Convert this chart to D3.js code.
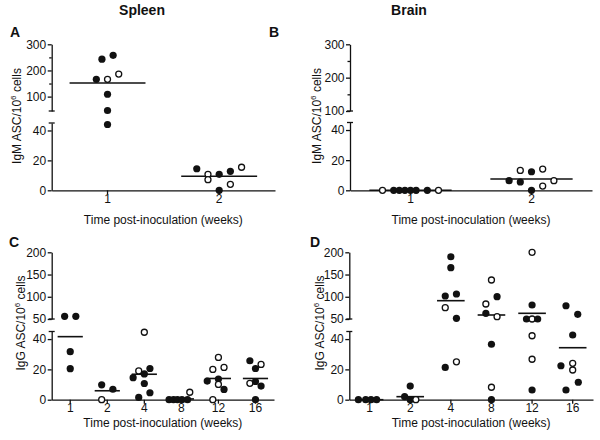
<!DOCTYPE html>
<html><head><meta charset="utf-8">
<script src="https://cdn.jsdelivr.net/npm/d3@7"></script>
<style>body{margin:0;background:#fff} svg text{font-family:"Liberation Sans",Arial,sans-serif}</style>
</head><body><svg id="chart" width="600" height="440"></svg>
<script>
// ---------- DATA ----------
const columnTitles = ["Spleen", "Brain"];
const panelLetters = ["A", "B", "C", "D"];
const igmLabel = "IgM ASC/10";
const iggLabel = "IgG ASC/10";
const xTitle = "Time post-inoculation (weeks)";

// Panel A: spleen IgM
const aWeeks = ["1", "2"];
const aWeek = [1,1,1,1,1,1,1,1, 2,2,2,2,2,2,2,2];
const aValue = [243,258,166,166,186,109,47,44, 14.4,10.7,7.1,10.7,12.7,15.4,4.0,0];
const aOpen = [0,0,0,1,1,0,0,0, 0,1,1,0,0,1,1,0];
const aSlot = [-1,1,-2,0,2,0,0,0, -4,-2,-2,0,2,4,2,0];
const aMedian = [152, 9.4];

// Panel B: brain IgM
const bWeeks = ["1", "2"];
const bWeek = [1,1,1,1,1,1,1,1, 2,2,2,2,2,2,2,2];
const bValue = [0,0,0,0,0,0,0,0, 6.4,5.5,13.2,12.3,14.1,2.8,6.4,0];
const bOpen = [1,0,0,0,0,0,0,1, 0,0,1,0,1,1,1,0];
const bSlot = [-5,-3,-2,-1,0,1,3,5, -4,-2,-2,0,2,2,4,0];
const bMedian = [0, 7.5];

// Panel C: spleen IgG
const cWeeks = ["1","2","4","8","12","16"];
const cWeek = [1,1,1,1, 2,2,2, 4,4,4,4,4,4,4,4, 8,8,8,8,8,8, 12,12,12,12,12,12,12,12, 16,16,16,16,16,16,16];
const cValue = [56,56,31.7,20.5, 9.8,6.9,0, 44.5,19,20.6,14.5,17,10.7,4.6,1.5, 0,0,0,0,0,4.9, 27.9,20,21.3,12.3,13.6,10.1,6.8,0, 25.7,23.3,20.6,10.8,12,9,0];
const cOpen = [0,0,0,0, 0,0,1, 1,1,0,0,0,0,0,0, 0,0,0,0,0,1, 1,1,1,0,0,1,0,1, 0,1,0,1,0,0,0];
const cSlot = [-1,1,0,0, -1,1,-1, 0,-1,1,-2,0,0,1,-1, -2.2,-1.4,-0.7,0.1,1.1,1.5, 0,-1,1,-2,0,0,1,-1, -1,1,0,-1,0,1,0];
const cMedian = [41.6, 5.9, 16.8, 0.5, 14, 14];

// Panel D: brain IgG
const dWeeks = ["1","2","4","8","12","16"];
const dWeek = [1,1,1,1, 2,2,2,2, 4,4,4,4,4,4,4,4, 8,8,8,8,8,8,8,8, 12,12,12,12,12,12,12,12, 16,16,16,16,16,16,16,16];
const dValue = [0,0,0,0, 9,2,0,0, 190,165.4,101.7,106.2,75.4,51.6,25,21.3, 137.7,100.1,83.7,62.8,55.2,36.6,8.2,0, 200,81.5,50,50,50,42.2,26.7,6.4, 79.8,60.6,42.7,22.4,24,19.6,11.5,6.4];
const dOpen = [0,0,0,0, 0,0,0,1, 0,0,0,0,1,0,1,0, 1,0,1,0,1,0,1,0, 1,0,0,1,0,1,1,0, 0,0,0,0,1,1,0,0];
const dSlot = [-2,-0.7,0.25,1.25, 0,-1,0,1, 0,0,-1,1,-1,1,1,-1, 0,1,-1,-1,1,0,0,0, 0,0,-1,0,1,0,0,0, -1.2,0.9,0,-2.1,0,0,1,-1.2];
const dMedian = [0, 2, 91.2, 59, 62.8, 34.3];

// axis tick values
const lowTicks = [0, 20, 40];
const igmUpTicks = [100, 200, 300];
const igmUpMinor = [150, 250];
const iggUpTicks = [50, 100, 150, 200];

// ---------- DRAW ----------
const svg = d3.select("#chart");
const FONT = "'Liberation Sans', Arial, sans-serif";
const SLOT = 5.6;

function drawPanel(cfg, weeks, week, value, open, slot, median) {
  const g = svg.append("g");
  const x = d3.scaleBand().domain(weeks).range([cfg.x0, cfg.x1]).padding(0);
  const low = d3.scaleLinear().domain(cfg.lowDomain).range([cfg.yBottom, cfg.lowTop]);
  const up = d3.scaleLinear().domain(cfg.upDomain).range([cfg.upBottom, cfg.yTop]);
  const y = v => v >= cfg.upDomain[0] ? up(v) : low(v);
  const cx = i => x(String(week[i])) + x.bandwidth() / 2 + slot[i] * SLOT;

  const styleAxis = sel => {
    sel.attr("font-family", FONT).attr("font-size", 12);
    sel.selectAll("path,line").attr("stroke", "#111").attr("stroke-width", 1.3);
    sel.selectAll("text").attr("fill", "#111");
  };

  // y lower segment
  g.append("g").attr("transform", `translate(${cfg.x0},0)`)
    .call(d3.axisLeft(low).tickValues(lowTicks).tickSize(4).tickSizeOuter(0).tickPadding(1.5))
    .call(styleAxis);
  // y upper segment
  g.append("g").attr("transform", `translate(${cfg.x0},0)`)
    .call(d3.axisLeft(up).tickValues(cfg.upTicks).tickSize(4).tickSizeOuter(0).tickPadding(1.5))
    .call(styleAxis);
  if (cfg.upMinor) {
    g.append("g").attr("transform", `translate(${cfg.x0},0)`)
      .call(d3.axisLeft(up).tickValues(cfg.upMinor).tickSize(2.5).tickFormat(""))
      .call(styleAxis).select(".domain").remove();
  }
  // break caps
  [cfg.lowTop, cfg.upBottom].forEach(yy => {
    g.append("line").attr("x1", cfg.x0 - 3).attr("x2", cfg.x0 + 3)
      .attr("y1", yy).attr("y2", yy).attr("stroke", "#111").attr("stroke-width", 1.3);
  });
  // x axis
  g.append("g").attr("transform", `translate(0,${cfg.yBottom})`)
    .call(d3.axisBottom(x).tickSize(4).tickSizeOuter(0).tickPadding(0))
    .call(styleAxis);

  // y title
  const yt = g.append("text")
    .attr("transform", `translate(${cfg.labelX},${cfg.labelY}) rotate(-90)`)
    .attr("text-anchor", "middle").attr("font-size", 12).attr("fill", "#111");
  yt.append("tspan").text(cfg.yLabel);
  yt.append("tspan").attr("dy", -5).attr("font-size", 8).text("6");
  yt.append("tspan").attr("dy", 5).text(" cells");

  // x title
  g.append("text").attr("x", (cfg.x0 + cfg.x1) / 2).attr("y", cfg.xTitleY)
    .attr("text-anchor", "middle").attr("font-size", 12).attr("fill", "#111").text(xTitle);

  // panel letter
  g.append("text").attr("x", cfg.letterX).attr("y", cfg.letterY)
    .attr("font-size", 14).attr("font-weight", "bold").attr("fill", "#111").text(cfg.letter);

  // median lines
  const hw = x.bandwidth() * 0.34;
  g.selectAll(".med").data(weeks).enter().append("line")
    .attr("x1", d => x(d) + x.bandwidth() / 2 - hw)
    .attr("x2", d => x(d) + x.bandwidth() / 2 + hw)
    .attr("y1", (d, i) => y(median[i])).attr("y2", (d, i) => y(median[i]))
    .attr("stroke", "#111").attr("stroke-width", 1.6);

  // points
  g.selectAll(".pt").data(value).enter().append("circle")
    .attr("cx", (d, i) => cx(i)).attr("cy", d => y(d))
    .attr("r", (d, i) => open[i] ? 3.0 : 3.6)
    .attr("fill", (d, i) => open[i] ? "#fff" : "#111")
    .attr("stroke", (d, i) => open[i] ? "#111" : "none")
    .attr("stroke-width", 1.3);
}

// column titles
svg.append("text").attr("x", 142).attr("y", 15).attr("text-anchor", "middle")
  .attr("font-size", 14).attr("font-weight", "bold").attr("fill", "#111").text(columnTitles[0]);
svg.append("text").attr("x", 409).attr("y", 15).attr("text-anchor", "middle")
  .attr("font-size", 14).attr("font-weight", "bold").attr("fill", "#111").text(columnTitles[1]);

drawPanel({x0: 51.7, x1: 275, yBottom: 190.3, lowTop: 123, upBottom: 111, yTop: 44.3,
  lowDomain: [0, 45], upDomain: [45, 300], upTicks: igmUpTicks, upMinor: igmUpMinor,
  yLabel: igmLabel, labelX: 20.5, labelY: 116, xTitleY: 224, letter: panelLetters[0], letterX: 10, letterY: 37},
  aWeeks, aWeek, aValue, aOpen, aSlot, aMedian);

drawPanel({x0: 350, x1: 592, yBottom: 190.3, lowTop: 122.5, upBottom: 111, yTop: 44.3,
  lowDomain: [0, 45], upDomain: [100, 300], upTicks: igmUpTicks, upMinor: igmUpMinor,
  yLabel: igmLabel, labelX: 320.5, labelY: 116, xTitleY: 224, letter: panelLetters[1], letterX: 269, letterY: 37},
  bWeeks, bWeek, bValue, bOpen, bSlot, bMedian);

drawPanel({x0: 51.7, x1: 274, yBottom: 399.7, lowTop: 331.5, upBottom: 319, yTop: 252.3,
  lowDomain: [0, 45], upDomain: [50, 200], upTicks: iggUpTicks, upMinor: null,
  yLabel: iggLabel, labelX: 24.5, labelY: 323, xTitleY: 427, letter: panelLetters[2], letterX: 9, letterY: 247},
  cWeeks, cWeek, cValue, cOpen, cSlot, cMedian);

drawPanel({x0: 349.3, x1: 593, yBottom: 399.7, lowTop: 331.5, upBottom: 319, yTop: 252.3,
  lowDomain: [0, 45], upDomain: [50, 200], upTicks: iggUpTicks, upMinor: null,
  yLabel: iggLabel, labelX: 324, labelY: 323, xTitleY: 427, letter: panelLetters[3], letterX: 310, letterY: 247},
  dWeeks, dWeek, dValue, dOpen, dSlot, dMedian);
</script>
</body></html>
